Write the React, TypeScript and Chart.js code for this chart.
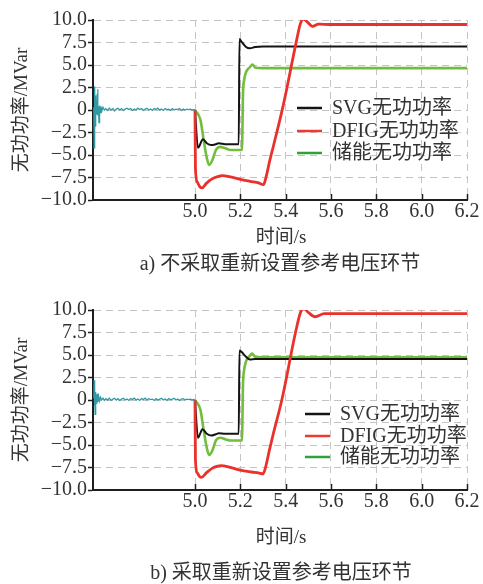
import React, { useEffect, useRef } from 'react';
import { Chart, registerables } from 'chart.js';

Chart.register(...registerables);

type P = [number, number];

const xTickValues = [5.0, 5.2, 5.4, 5.6, 5.8, 6.0, 6.2];
const xMin = 4.55;
const xMax = 6.2;
const yMin = -10;
const yMax = 10;
const yStep = 2.5;
const seriesNames = ['SVG无功功率', 'DFIG无功功率', '储能无功功率'];
const yTitle = '无功功率/MVar';
const xTitle = '时间/s';
const captionA = 'a) 不采取重新设置参考电压环节';
const captionB = 'b) 采取重新设置参考电压环节';

// panel a
const tealA: P[] = [
  [4.5535, 0.3], [4.555, -4.2], [4.5565, 1.5], [4.558, 2.6], [4.5595, -1.8], [4.561, 1.6], [4.5625, -0.9],
  [4.564, 0.9], [4.566, -0.5], [4.5685, 1.8], [4.5705, 2.3], [4.572, -0.6], [4.574, 0.4], [4.5765, -1.4],
  [4.579, 0.5], [4.582, -0.3], [4.585, 0.4], [4.589, -0.1], [4.594, 0.3], [4.6, 0.0], [4.607, 0.15],
  [4.615, -0.05], [4.622, 0.2], [4.63, 0.0], [4.638, 0.15], [4.645, -0.1], [4.653, 0.1], [4.66, 0.2],
  [4.668, 0.0], [4.676, 0.15], [4.684, -0.05], [4.692, 0.1], [4.7, 0.2], [4.708, 0.05], [4.716, 0.15],
  [4.724, -0.05], [4.732, 0.1], [4.74, 0.0], [4.748, 0.2], [4.756, 0.05], [4.764, 0.15], [4.772, -0.05],
  [4.78, 0.1], [4.788, 0.2], [4.796, 0.0], [4.804, 0.1], [4.812, -0.05], [4.82, 0.15], [4.828, 0.05],
  [4.836, 0.2], [4.844, 0.0], [4.852, 0.1], [4.86, -0.05], [4.868, 0.15], [4.876, 0.05], [4.884, 0.1],
  [4.892, -0.05], [4.9, 0.15], [4.908, 0.0], [4.916, 0.1], [4.924, 0.05], [4.932, 0.15], [4.94, -0.05],
  [4.948, 0.1], [4.956, 0.0], [4.964, 0.1], [4.972, 0.05], [4.98, 0.1], [4.988, 0.0], [4.995, 0.05], [5.0, 0.0],
];
const svgA: P[] = [
  [5.0, 0], [5.013, -4.2], [5.035, -3.25], [5.052, -3.7], [5.072, -3.9], [5.092, -3.8], [5.105, -3.7],
  [5.133, -3.8], [5.193, -3.8], [5.196, 7.9], [5.205, 7.6], [5.225, 7.0], [5.242, 6.85], [5.265, 7.0],
  [5.3, 7.05], [5.6, 7.05], [6.2, 7.05],
];
const dfigA: P[] = [
  [5.0, 0], [5.002, -6.5], [5.01, -8.0], [5.022, -8.55], [5.031, -8.65], [5.05, -8.15], [5.075, -7.65],
  [5.1, -7.4], [5.12, -7.3], [5.15, -7.4], [5.2, -7.7], [5.25, -7.95], [5.28, -8.1], [5.302, -8.3],
  [5.312, -7.6], [5.33, -5.6], [5.346, -4.0], [5.39, 0.6], [5.447, 7.6], [5.465, 9.6], [5.478, 10.1],
  [5.495, 9.8], [5.518, 9.3], [5.545, 9.55], [5.6, 9.5], [5.8, 9.5], [6.2, 9.5],
];
const storA: P[] = [
  [5.0, 0], [5.004, -0.15], [5.024, -1.1], [5.038, -3.3], [5.051, -5.2], [5.062, -6.1], [5.077, -5.55],
  [5.092, -4.45], [5.112, -4.1], [5.133, -4.25], [5.158, -4.45], [5.207, -4.45], [5.212, 2.0],
  [5.216, 3.2], [5.225, 4.2], [5.242, 4.75], [5.254, 5.05], [5.266, 4.7], [5.3, 4.65], [6.2, 4.65],
];

// panel b
const tealB: P[] = [
  [4.5535, 0.2], [4.555, 2.2], [4.5565, -0.6], [4.558, 1.2], [4.5595, -1.6], [4.561, 0.9], [4.5625, -0.5],
  [4.5645, 0.6], [4.567, -0.4], [4.5695, 0.7], [4.572, -0.2], [4.575, 0.4], [4.579, -0.1], [4.583, 0.3],
  [4.588, 0.0], [4.594, 0.2], [4.6, -0.05], [4.607, 0.15], [4.615, 0.0], [4.622, 0.2], [4.63, -0.05],
  [4.638, 0.1], [4.645, 0.2], [4.653, 0.0], [4.66, 0.15], [4.668, -0.05], [4.676, 0.1], [4.684, 0.2],
  [4.692, 0.0], [4.7, 0.1], [4.708, -0.05], [4.716, 0.15], [4.724, 0.05], [4.732, 0.2], [4.74, 0.0],
  [4.748, 0.1], [4.756, -0.05], [4.764, 0.15], [4.772, 0.05], [4.78, 0.2], [4.788, 0.0], [4.796, 0.15],
  [4.804, 0.05], [4.812, 0.1], [4.82, -0.05], [4.828, 0.15], [4.836, 0.0], [4.844, 0.1], [4.852, 0.2],
  [4.86, 0.0], [4.868, 0.1], [4.876, -0.05], [4.884, 0.15], [4.892, 0.05], [4.9, 0.1], [4.908, 0.2],
  [4.916, 0.0], [4.924, 0.1], [4.932, -0.05], [4.94, 0.1], [4.948, 0.15], [4.956, 0.0], [4.964, 0.1],
  [4.972, 0.05], [4.98, 0.1], [4.988, 0.0], [4.995, 0.05], [5.0, 0.0],
];
const svgB: P[] = [
  [5.0, 0], [5.013, -4.2], [5.033, -3.25], [5.052, -3.75], [5.072, -3.95], [5.092, -3.8], [5.105, -3.7],
  [5.133, -3.75], [5.193, -3.75], [5.196, 5.5], [5.205, 5.35], [5.225, 4.8], [5.242, 4.5], [5.265, 4.55],
  [5.3, 4.55], [6.2, 4.55],
];
const dfigB: P[] = [
  [5.0, 0], [5.002, -6.7], [5.01, -8.1], [5.022, -8.55], [5.028, -8.6], [5.05, -8.1], [5.075, -7.6],
  [5.1, -7.35], [5.115, -7.3], [5.15, -7.45], [5.2, -7.8], [5.25, -8.0], [5.28, -8.1], [5.3, -8.2],
  [5.31, -7.6], [5.328, -5.6], [5.346, -3.7], [5.383, 0.0], [5.446, 7.8], [5.465, 9.7], [5.48, 10.2],
  [5.497, 9.8], [5.53, 9.25], [5.57, 9.6], [5.65, 9.6], [5.9, 9.6], [6.2, 9.6],
];
const storB: P[] = [
  [5.0, 0], [5.004, -0.15], [5.024, -1.1], [5.038, -3.3], [5.051, -5.2], [5.062, -6.1], [5.077, -5.6],
  [5.092, -4.5], [5.112, -4.2], [5.133, -4.35], [5.158, -4.5], [5.207, -4.5], [5.212, 2.0], [5.216, 3.2],
  [5.225, 4.3], [5.24, 4.85], [5.252, 5.15], [5.265, 4.8], [5.3, 4.75], [6.2, 4.75],
];

const SERIF = "'Liberation Serif', 'Noto Sans CJK SC', serif";
const TICK_FONT = "'Liberation Serif', 'Times New Roman', serif";
const TEXT = '#333333';
const GRID = '#c4c4c4';
const AXIS = '#1e1e1e';
const lineColors = ['#141414', '#e8322b', '#72be3c'];
const legendColors = ['#141414', '#ee3a30', '#2fa23c'];
const TEAL = '#2f9aa3';

interface PanelCfg {
  teal: P[];
  svg: P[];
  dfig: P[];
  stor: P[];
  height: number;
  legendLineX: number;
  legendTextX: number;
  legendRows: number[];
  xTitleY: number;
  captionX: number;
  captionY: number;
  caption: string;
}

const toXY = (arr: P[]) => arr.map(([x, y]) => ({ x, y }));
const fmtY = (v: number) => (v === 0 ? '0' : v.toFixed(1).replace('-', '\u2212'));

function buildChart(canvas: HTMLCanvasElement, cfg: PanelCfg) {
  const textPlugin = {
    id: 'panelText',
    afterDraw(chart: any) {
      const ctx: CanvasRenderingContext2D = chart.ctx;
      const { bottom } = chart.chartArea;
      const xs = chart.scales.x;
      ctx.save();
      // inward tick marks on x axis
      ctx.strokeStyle = AXIS;
      ctx.lineWidth = 1.5;
      xTickValues.forEach((v) => {
        const px = Math.round(xs.getPixelForValue(v)) + 0.5;
        ctx.beginPath();
        ctx.moveTo(px, bottom);
        ctx.lineTo(px, bottom - 6);
        ctx.stroke();
      });
      // legend
      ctx.font = `20px ${SERIF}`;
      ctx.textBaseline = 'middle';
      ctx.textAlign = 'left';
      seriesNames.forEach((name, i) => {
        const y = cfg.legendRows[i];
        ctx.strokeStyle = legendColors[i];
        ctx.lineWidth = 2.5;
        ctx.beginPath();
        ctx.moveTo(cfg.legendLineX, y);
        ctx.lineTo(cfg.legendLineX + 25, y);
        ctx.stroke();
        ctx.fillStyle = TEXT;
        ctx.fillText(name, cfg.legendTextX, y + 1);
      });
      // axis titles and caption
      ctx.fillStyle = TEXT;
      ctx.textAlign = 'center';
      ctx.font = `19px ${SERIF}`;
      ctx.fillText(xTitle, 281, cfg.xTitleY);
      ctx.font = `20px ${SERIF}`;
      ctx.fillText(cfg.caption, cfg.captionX, cfg.captionY);
      ctx.translate(22, 110);
      ctx.rotate(-Math.PI / 2);
      ctx.font = `19px ${SERIF}`;
      ctx.fillText(yTitle, 0, 0);
      ctx.restore();
    },
  };

  const lineDs = (label: string, data: P[], color: string, width: number, order: number, smooth: boolean) => ({
    label,
    data: toXY(data),
    borderColor: color,
    backgroundColor: color,
    borderWidth: width,
    pointRadius: 0,
    fill: false,
    order,
    tension: smooth ? 0.4 : 0,
    cubicInterpolationMode: smooth ? 'monotone' : 'default',
  });

  return new Chart(canvas, {
    type: 'line',
    data: {
      datasets: [
        lineDs('teal', cfg.teal, TEAL, 1.3, 0, false),
        lineDs(seriesNames[1], cfg.dfig, lineColors[1], 2.8, 1, true),
        lineDs(seriesNames[0], cfg.svg, lineColors[0], 2.0, 2, true),
        lineDs(seriesNames[2], cfg.stor, lineColors[2], 2.6, 3, true),
      ] as any,
    },
    options: {
      animation: false,
      responsive: false,
      devicePixelRatio: 1,
      layout: { padding: { left: 0, right: 16, top: 20, bottom: 0 } },
      plugins: { legend: { display: false }, tooltip: { enabled: false }, title: { display: false } },
      scales: {
        x: {
          type: 'linear',
          min: xMin,
          max: xMax,
          afterBuildTicks: (s: any) => {
            s.ticks = xTickValues.map((v) => ({ value: v }));
          },
          afterFit: (s: any) => {
            s.height = cfg.height - 200;
          },
          ticks: {
            font: { family: TICK_FONT, size: 20, lineHeight: 1 },
            color: TEXT,
            padding: 2,
            maxRotation: 0,
            autoSkip: false,
            callback: (v: any) => Number(v).toFixed(1),
          },
          grid: { color: GRID, lineWidth: 1, drawTicks: false, borderDash: [7, 5] },
          border: { display: true, color: AXIS, width: 2, dash: [7, 5] },
        },
        y: {
          type: 'linear',
          min: yMin,
          max: yMax,
          afterFit: (s: any) => {
            s.width = 93;
          },
          ticks: {
            stepSize: yStep,
            autoSkip: false,
            font: { family: TICK_FONT, size: 20, lineHeight: 1 },
            color: TEXT,
            padding: 1,
            callback: (v: any) => fmtY(Number(v)),
          },
          grid: {
            color: GRID,
            lineWidth: 1,
            tickLength: 5,
            tickColor: AXIS,
            tickWidth: 1.5,
            tickBorderDash: [],
            borderDash: [7, 5],
          },
          border: { display: true, color: AXIS, width: 2, dash: [7, 5] },
        },
      },
    } as any,
    plugins: [textPlugin],
  });
}

function Panel({ cfg }: { cfg: PanelCfg }) {
  const ref = useRef<HTMLCanvasElement>(null);
  useEffect(() => {
    const chart = buildChart(ref.current as HTMLCanvasElement, cfg);
    return () => chart.destroy();
  }, [cfg]);
  return (
    <canvas
      ref={ref}
      width={483}
      height={cfg.height}
      style={{ display: 'block', width: 483, height: cfg.height }}
    />
  );
}

const panelA: PanelCfg = {
  teal: tealA, svg: svgA, dfig: dfigA, stor: storA, height: 290,
  legendLineX: 297, legendTextX: 332, legendRows: [108, 131, 153],
  xTitleY: 238, captionX: 280, captionY: 265, caption: captionA,
};
const panelB: PanelCfg = {
  teal: tealB, svg: svgB, dfig: dfigB, stor: storB, height: 294,
  legendLineX: 305, legendTextX: 340, legendRows: [124, 146, 167],
  xTitleY: 248, captionX: 281, captionY: 284, caption: captionB,
};

export default function App() {
  return (
    <div style={{ position: 'absolute', left: 0, top: 0, width: 483, height: 584, background: '#ffffff' }}>
      <Panel cfg={panelA} />
      <Panel cfg={panelB} />
    </div>
  );
}
